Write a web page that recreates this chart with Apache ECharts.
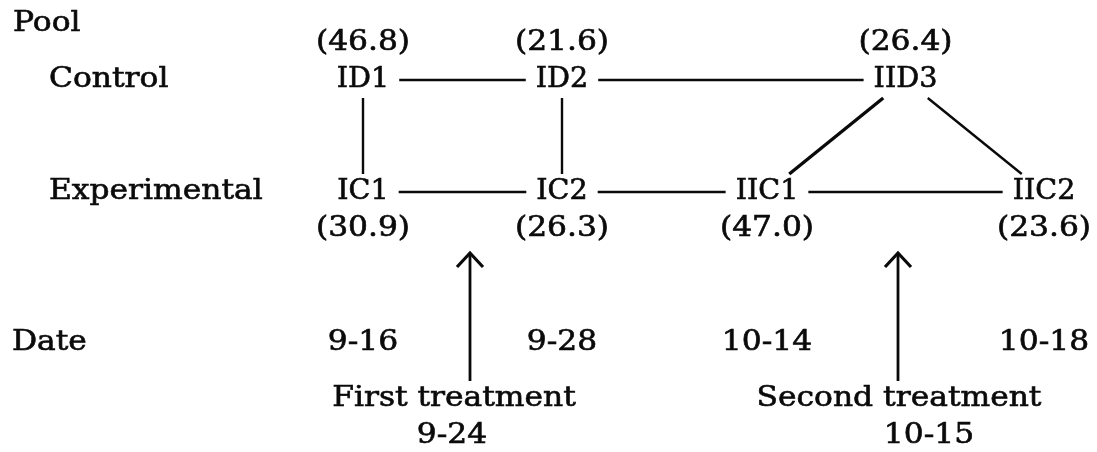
<!DOCTYPE html>
<html><head><meta charset="utf-8">
<script src="https://cdn.jsdelivr.net/npm/echarts@6/dist/echarts.min.js"></script>
<style>html,body{margin:0;padding:0;background:#fff}#c{width:1097px;height:452px}</style>
</head><body><div id="c"></div>
<script>
// ---------------- data ----------------
const rowLabels   = ['Pool', 'Control', 'Experimental', 'Date'];
const nodeNames   = ['ID1', 'ID2', 'IID3', 'IC1', 'IC2', 'IIC1', 'IIC2'];
const nodeRow     = ['Control', 'Control', 'Control', 'Experimental', 'Experimental', 'Experimental', 'Experimental'];
const nodeCol     = [0, 1, 2.5, 0, 1, 2, 3];           // sampling column (IID3 serves columns 2 and 3)
const nodeValues  = [46.8, 21.6, 26.4, 30.9, 26.3, 47.0, 23.6];
const links       = [['ID1','ID2'], ['ID2','IID3'], ['ID1','IC1'], ['ID2','IC2'], ['IID3','IIC1'],
                     ['IID3','IIC2'], ['IC1','IC2'], ['IC2','IIC1'], ['IIC1','IIC2']];
const sampleDates = ['9-16', '9-28', '10-14', '10-18'];
const treatments  = ['First treatment', 'Second treatment'];
const treatmentDates = ['9-24', '10-15'];

// ---------------- layout (diagram units) ----------------
const LAYOUT = {
  colX: [363, 562, 767, 1044],
  rowY: { Pool: 24, Control: 80, Experimental: 192, Date: 343 },
  rowLabelX: { Pool: 13, Control: 49, Experimental: 49, Date: 12 },
  valueAboveY: 43, valueBelowY: 229,
  treatX: [470, 898], treatLabelX: [454, 899], treatDateX: [452, 929],
  treatLabelY: 399, treatDateY: 436,
  arrowTopY: 253, arrowBottomY: 381
};
const FONT = 'DejaVu Serif', FS = 27, INK = '#0a0a0a';
const SX = 1.16, NODE_SX = 1.06;
const GAP_X = 10, GAP_Y = 18;

function colToX(c) {
  const i = Math.min(Math.floor(c), LAYOUT.colX.length - 2);
  const f = c - i;
  return LAYOUT.colX[i] + (LAYOUT.colX[i + 1] - LAYOUT.colX[i]) * f;
}
const nodeX = nodeCol.map(colToX);
const nodeY = nodeRow.map(r => LAYOUT.rowY[r]);

const mctx = document.createElement('canvas').getContext('2d');
mctx.font = FS + 'px "' + FONT + '"';
const nodeHalfW = nodeNames.map(n => mctx.measureText(n).width * NODE_SX / 2);

function textSeries(name, texts, xs, ys, align, sx) {
  return {
    type: 'custom', name, coordinateSystem: 'cartesian2d', silent: true,
    encode: { x: 0, y: 1 },
    data: texts.map((t, i) => [xs[i], ys[i]]),
    renderItem(params, api) {
      const p = api.coord([api.value(0), api.value(1)]);
      return {
        type: 'text', x: p[0], y: p[1], scaleX: sx,
        style: { text: texts[params.dataIndex], fontFamily: FONT, fontSize: FS, fill: INK,
                 stroke: INK, lineWidth: 0.6, align, verticalAlign: 'middle' }
      };
    }
  };
}

const linkSeries = {
  type: 'custom', name: 'links', coordinateSystem: 'cartesian2d', silent: true,
  encode: { x: 0, y: 1 },
  data: links.map(([a, b]) => {
    const ia = nodeNames.indexOf(a), ib = nodeNames.indexOf(b);
    return [(nodeX[ia] + nodeX[ib]) / 2, (nodeY[ia] + nodeY[ib]) / 2];
  }),
  renderItem(params, api) {
    const [a, b] = links[params.dataIndex];
    const ia = nodeNames.indexOf(a), ib = nodeNames.indexOf(b);
    const pa = api.coord([nodeX[ia], nodeY[ia]]), pb = api.coord([nodeX[ib], nodeY[ib]]);
    const dx = pb[0] - pa[0], dy = pb[1] - pa[1];
    const exitT = i => Math.min(dx ? (nodeHalfW[i] + GAP_X) / Math.abs(dx) : Infinity,
                                dy ? GAP_Y / Math.abs(dy) : Infinity);
    const t0 = exitT(ia), t1 = 1 - exitT(ib);
    const thick = (a === 'IID3' && b === 'IIC1');
    return {
      type: 'line',
      shape: { x1: pa[0] + dx * t0, y1: pa[1] + dy * t0, x2: pa[0] + dx * t1, y2: pa[1] + dy * t1 },
      style: { stroke: INK, lineWidth: thick ? 3.4 : 2.4 }
    };
  }
};

const arrowSeries = {
  type: 'custom', name: 'treatment arrows', coordinateSystem: 'cartesian2d', silent: true,
  encode: { x: 0, y: 1 },
  data: treatments.map((t, i) => [LAYOUT.treatX[i], LAYOUT.arrowTopY]),
  renderItem(params, api) {
    const top = api.coord([api.value(0), LAYOUT.arrowTopY]);
    const bot = api.coord([api.value(0), LAYOUT.arrowBottomY]);
    return {
      type: 'group',
      children: [
        { type: 'line', shape: { x1: bot[0], y1: bot[1], x2: top[0], y2: top[1] },
          style: { stroke: INK, lineWidth: 2.8 } },
        { type: 'polyline', shape: { points: [[top[0] - 13, top[1] + 14], [top[0], top[1]], [top[0] + 13, top[1] + 14]] },
          style: { stroke: INK, lineWidth: 3.2, fill: null, lineJoin: 'miter' } }
      ]
    };
  }
};

const fmt = v => '(' + v.toFixed(1) + ')';
const topIdx = nodeRow.map((r, i) => r === 'Control' ? i : -1).filter(i => i >= 0);
const botIdx = nodeRow.map((r, i) => r === 'Experimental' ? i : -1).filter(i => i >= 0);

const chart = echarts.init(document.getElementById('c'));
chart.setOption({
  animation: false,
  backgroundColor: '#fff',
  grid: { left: 0, right: 0, top: 0, bottom: 0 },
  xAxis: { type: 'value', min: 0, max: 1097, show: false },
  yAxis: { type: 'value', min: 0, max: 452, inverse: true, show: false },
  series: [
    linkSeries,
    arrowSeries,
    textSeries('rows', rowLabels, rowLabels.map(r => LAYOUT.rowLabelX[r]), rowLabels.map(r => LAYOUT.rowY[r]), 'left', SX),
    textSeries('nodes', nodeNames, nodeX, nodeY, 'center', NODE_SX),
    textSeries('control values', topIdx.map(i => fmt(nodeValues[i])), topIdx.map(i => nodeX[i]), topIdx.map(() => LAYOUT.valueAboveY), 'center', SX),
    textSeries('experimental values', botIdx.map(i => fmt(nodeValues[i])), botIdx.map(i => nodeX[i]), botIdx.map(() => LAYOUT.valueBelowY), 'center', SX),
    textSeries('dates', sampleDates, sampleDates.map((d, i) => LAYOUT.colX[i]), sampleDates.map(() => LAYOUT.rowY.Date), 'center', SX),
    textSeries('treatments', treatments, LAYOUT.treatLabelX, treatments.map(() => LAYOUT.treatLabelY), 'center', SX),
    textSeries('treatment dates', treatmentDates, LAYOUT.treatDateX, treatmentDates.map(() => LAYOUT.treatDateY), 'center', SX)
  ]
});
</script></body></html>
